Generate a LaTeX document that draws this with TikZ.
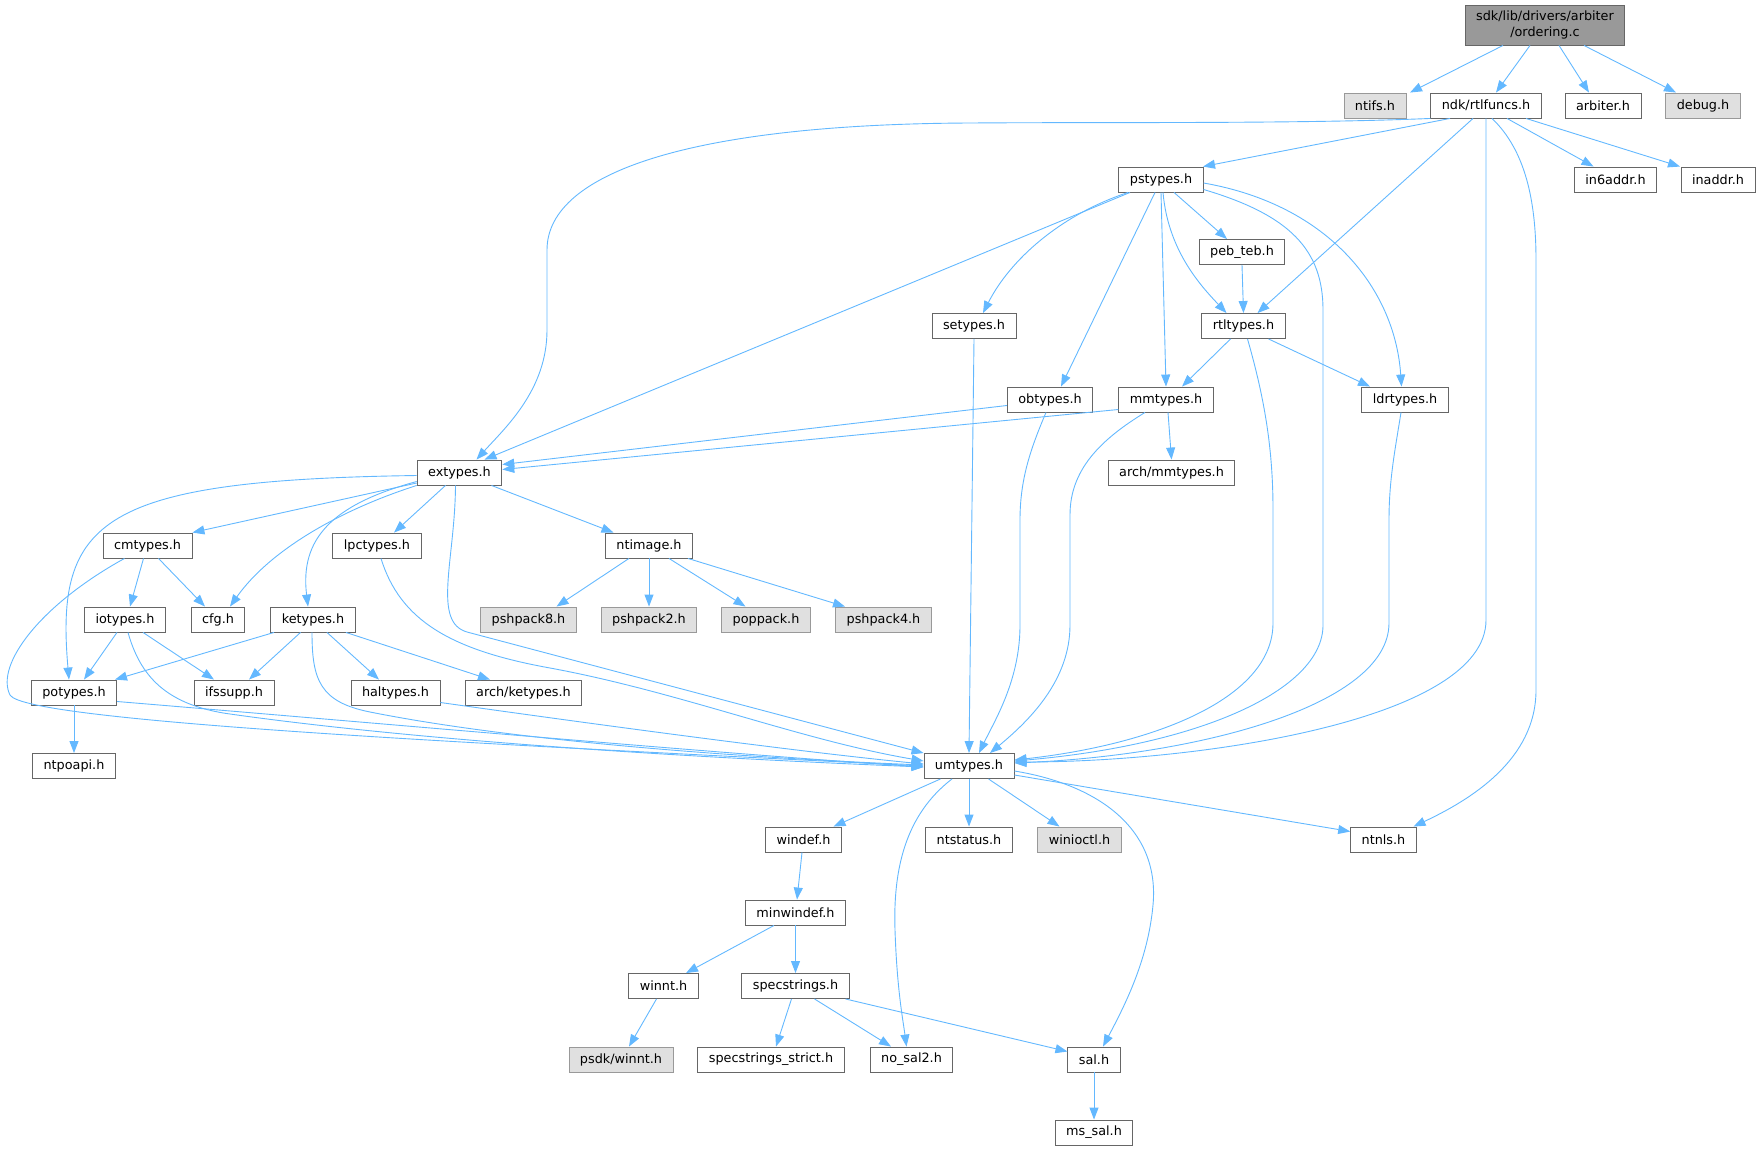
\documentclass[tikz,border=0pt]{standalone}
\usepackage{fontspec}
\setmainfont{DejaVu Sans}
\usetikzlibrary{arrows.meta}
\definecolor{edgeblue}{HTML}{63B8FF}
\definecolor{boxline}{HTML}{666666}
\definecolor{rootfill}{HTML}{999999}
\definecolor{missline}{HTML}{999999}
\definecolor{missfill}{HTML}{E0E0E0}
\begin{document}
\begin{tikzpicture}[
    x=1pt, y=-1pt,
    hdr/.style={draw=boxline,fill=white,line width=0.9pt,minimum height=25pt,
      inner xsep=11pt,inner ysep=0pt,font=\fontsize{12.8}{16}\selectfont},
    miss/.style={hdr,draw=missline,fill=missfill},
    root/.style={hdr,fill=rootfill,minimum height=40pt,align=center},
    dep/.style={draw=edgeblue,line width=0.9pt,-{Triangle[length=12pt,width=9pt]}}]
 \useasboundingbox (0,0) rectangle (1761,1151);
 \node [root] (ord) at (1545,25) {sdk/lib/drivers/arbiter\\/ordering.c};
 \node [miss] (ntifs) at (1375,105.5) {ntifs.h};
 \node [hdr] (rtlf) at (1486,105.5) {ndk/rtlfuncs.h};
 \node [hdr] (arbiter) at (1603,105.5) {arbiter.h};
 \node [miss] (debug) at (1703,105.5) {debug.h};
 \node [hdr] (pstypes) at (1161,179.5) {pstypes.h};
 \node [hdr] (in6) at (1615.5,179.5) {in6addr.h};
 \node [hdr] (inaddr) at (1718,179.5) {inaddr.h};
 \node [hdr] (pebteb) at (1242,252) {peb\_teb.h};
 \node [hdr] (setypes) at (974,326) {setypes.h};
 \node [hdr] (rtlt) at (1243.5,326) {rtltypes.h};
 \node [hdr] (obtypes) at (1050,399.5) {obtypes.h};
 \node [hdr] (mmtypes) at (1166,399.5) {mmtypes.h};
 \node [hdr] (ldrtypes) at (1405,399.5) {ldrtypes.h};
 \node [hdr] (extypes) at (459.5,472.5) {extypes.h};
 \node [hdr] (archmm) at (1171.5,472.5) {arch/mmtypes.h};
 \node [hdr] (cmtypes) at (147.5,545.5) {cmtypes.h};
 \node [hdr] (lpctypes) at (377,545.5) {lpctypes.h};
 \node [hdr] (ntimage) at (649,545.5) {ntimage.h};
 \node [hdr] (iotypes) at (125,619.5) {iotypes.h};
 \node [hdr] (cfg) at (218,619.5) {cfg.h};
 \node [hdr] (ketypes) at (313,619.5) {ketypes.h};
 \node [miss] (pshp8) at (528.5,619.5) {pshpack8.h};
 \node [miss] (pshp2) at (649,619.5) {pshpack2.h};
 \node [miss] (poppack) at (766,619.5) {poppack.h};
 \node [miss] (pshp4) at (883.5,619.5) {pshpack4.h};
 \node [hdr] (potypes) at (74,692.5) {potypes.h};
 \node [hdr] (ifssupp) at (234,692.5) {ifssupp.h};
 \node [hdr] (haltypes) at (395.5,692.5) {haltypes.h};
 \node [hdr] (archke) at (523.5,692.5) {arch/ketypes.h};
 \node [hdr] (ntpoapi) at (74,766) {ntpoapi.h};
 \node [hdr] (umtypes) at (969,766) {umtypes.h};
 \node [hdr] (windef) at (803.5,839.5) {windef.h};
 \node [hdr] (ntstatus) at (969,839.5) {ntstatus.h};
 \node [miss] (winioctl) at (1079.5,839.5) {winioctl.h};
 \node [hdr] (ntnls) at (1383.5,839.5) {ntnls.h};
 \node [hdr] (minwindef) at (795.5,912.5) {minwindef.h};
 \node [hdr] (winnt) at (663.5,986) {winnt.h};
 \node [hdr] (specstr) at (795.5,986) {specstrings.h};
 \node [miss] (psdkwinnt) at (621,1059.5) {psdk/winnt.h};
 \node [hdr] (specstrict) at (771,1059.5) {specstrings\_strict.h};
 \node [hdr] (nosal2) at (911.5,1059.5) {no\_sal2.h};
 \node [hdr] (sal) at (1094,1059.5) {sal.h};
 \node [hdr] (mssal) at (1094,1132.5) {ms\_sal.h};

 \draw [dep] ([xshift=-42pt]ord.south) -- ([xshift=35pt]ntifs.north);
 \draw [dep] ([xshift=-15pt]ord.south) -- ([xshift=10pt]rtlf.north);
 \draw [dep] ([xshift=14pt]ord.south) -- ([xshift=-14pt]arbiter.north);
 \draw [dep] ([xshift=39pt]ord.south) -- ([xshift=-27pt]debug.north);

 \draw [dep] (rtlf.south west) .. controls (1300,124) and (1100,122) .. (971,123)
   .. controls (700,124) and (547,170) .. (547,250) -- (547,330)
   .. controls (547,390) and (505,428) .. ([xshift=17pt]extypes.north);
 \draw [dep] ([xshift=-36pt]rtlf.south) -- ([xshift=42pt]pstypes.north);
 \draw [dep] ([xshift=-13pt]rtlf.south) -- ([xshift=14pt]rtlt.north);
 \draw [dep] (rtlf.south) -- (1486,620)
   .. controls (1486,720) and (1200,762) .. ([yshift=4pt]umtypes.east);
 \draw [dep] ([xshift=6pt]rtlf.south) .. controls (1525,150) and (1536,200) .. (1536,260)
   -- (1536,690) .. controls (1536,760) and (1470,800) .. ([xshift=30pt]ntnls.north);
 \draw [dep] ([xshift=21pt]rtlf.south) -- ([xshift=-22pt]in6.north);
 \draw [dep] ([xshift=40pt]rtlf.south) -- ([xshift=-38pt]inaddr.north);

 \draw [dep] ([xshift=-31pt]pstypes.south) -- ([xshift=25pt]extypes.north);
 \draw [dep] ([xshift=-33pt]pstypes.south) .. controls (1060,215) and (1010,260) .. ([xshift=9pt]setypes.north);
 \draw [dep] ([xshift=-6pt]pstypes.south) -- ([xshift=11pt]obtypes.north);
 \draw [dep] (pstypes.south) -- (mmtypes.north);
 \draw [dep] ([xshift=2pt]pstypes.south) .. controls (1168,250) and (1200,285) .. ([xshift=-17pt]rtlt.north);
 \draw [dep] ([xshift=13pt]pstypes.south) -- ([xshift=-15pt]pebteb.north);
 \draw [dep] ([yshift=-10pt]pstypes.east) .. controls (1290,215) and (1323,250) .. (1323,310)
   -- (1323,625) .. controls (1323,690) and (1200,745) .. ([yshift=5pt]umtypes.east);
 \draw [dep] ([yshift=-3.5pt]pstypes.east) .. controls (1330,205) and (1395,290) .. ([xshift=-3.5pt]ldrtypes.north);

 \draw [dep] (pebteb.south) -- (rtlt.north);
 \draw [dep] ([xshift=-13pt]rtlt.south) -- ([xshift=16pt]mmtypes.north);
 \draw [dep] ([xshift=25pt]rtlt.south) -- ([xshift=-35pt]ldrtypes.north);
 \draw [dep] ([xshift=4pt]rtlt.south) .. controls (1265,400) and (1273,450) .. (1273,510)
   -- (1273,623) .. controls (1273,700) and (1150,745) .. ([yshift=6pt]umtypes.east);

 \draw [dep] (setypes.south) -- (umtypes.north);
 \draw [dep] ([yshift=-6pt]obtypes.west) -- ([yshift=8pt]extypes.east);
 \draw [dep] ([xshift=-4pt]obtypes.south) .. controls (1030,450) and (1020,480) .. (1020,520)
   -- (1020,625) .. controls (1020,680) and (995,720) .. ([xshift=10pt]umtypes.north);
 \draw [dep] ([yshift=-10pt]mmtypes.west) -- ([yshift=3pt]extypes.east);
 \draw [dep] ([xshift=2pt]mmtypes.south) -- (archmm.north);
 \draw [dep] ([xshift=-21pt]mmtypes.south) .. controls (1100,440) and (1070,470) .. (1070,515)
   -- (1070,625) .. controls (1070,680) and (1030,720) .. ([xshift=21pt]umtypes.north);
 \draw [dep] ([xshift=-4pt]ldrtypes.south) .. controls (1395,450) and (1389,480) .. (1389,520)
   -- (1389,623) .. controls (1389,705) and (1200,755) .. ([yshift=3pt]umtypes.east);

 \draw [dep] ([yshift=-3pt]extypes.west) .. controls (100,480) and (55,520) .. ([xshift=-5pt]potypes.north);
 \draw [dep] ([yshift=-10.5pt]extypes.west) -- (cmtypes.north east);
 \draw [dep] (extypes.south west) .. controls (340,510) and (270,550) .. ([xshift=12pt]cfg.north);
 \draw [dep] ([yshift=-9pt]extypes.west) .. controls (330,505) and (300,540) .. ([xshift=-5pt]ketypes.north);
 \draw [dep] ([xshift=-14pt]extypes.south) -- ([xshift=17pt]lpctypes.north);
 \draw [dep] ([xshift=32pt]extypes.south) -- ([xshift=-35.5pt]ntimage.north);
 \draw [dep] ([xshift=-4pt]extypes.south) .. controls (455,560) and (432,622) .. (467,632)
   -- (umtypes.north west);

 \draw [dep] ([xshift=-4pt]cmtypes.south) -- ([xshift=5pt]iotypes.north);
 \draw [dep] ([xshift=11pt]cmtypes.south) -- ([xshift=-13pt]cfg.north);
 \draw [dep] ([xshift=-23pt]cmtypes.south) .. controls (40,605) and (-5,665) .. (10,695)
   .. controls (25,722) and (500,745) .. (umtypes.west);
 \draw [dep] ([xshift=-8pt]iotypes.south) -- ([xshift=10pt]potypes.north);
 \draw [dep] ([xshift=18pt]iotypes.south) -- ([xshift=-20pt]ifssupp.north);
 \draw [dep] ([xshift=3pt]iotypes.south) .. controls (140,675) and (165,705) .. (230,714)
   .. controls (450,745) and (750,760) .. ([yshift=-1pt]umtypes.west);
 \draw [dep] ([xshift=-39pt]ketypes.south) -- ([xshift=41pt]potypes.north);
 \draw [dep] ([xshift=-12.5pt]ketypes.south) -- ([xshift=15pt]ifssupp.north);
 \draw [dep] ([xshift=14pt]ketypes.south) -- ([xshift=-16.5pt]haltypes.north);
 \draw [dep] ([xshift=33pt]ketypes.south) -- ([xshift=-33.5pt]archke.north);
 \draw [dep] ([xshift=-1pt]ketypes.south) .. controls (312,680) and (320,702) .. (370,712)
   .. controls (520,742) and (750,758) .. ([yshift=1pt]umtypes.west);
 \draw [dep] ([xshift=4pt]lpctypes.south) .. controls (400,620) and (450,650) .. (550,668)
   .. controls (680,692) and (800,740) .. ([yshift=5pt]umtypes.west);
 \draw [dep] (potypes.south) -- (ntpoapi.north);
 \draw [dep] ([yshift=-9pt]potypes.east) .. controls (400,725) and (700,752) .. ([yshift=-1pt]umtypes.west);
 \draw [dep] ([yshift=-10pt]haltypes.east) .. controls (600,725) and (800,752) .. ([yshift=2pt]umtypes.west);

 \draw [dep] ([xshift=-20pt]ntimage.south) -- ([xshift=28pt]pshp8.north);
 \draw [dep] (ntimage.south) -- (pshp2.north);
 \draw [dep] ([xshift=20pt]ntimage.south) -- ([xshift=-20.5pt]poppack.north);
 \draw [dep] ([xshift=39pt]ntimage.south) -- ([xshift=-38.5pt]pshp4.north);

 \draw [dep] ([xshift=-28.5pt]umtypes.south) -- ([xshift=30pt]windef.north);
 \draw [dep] ([xshift=-17pt]umtypes.south) .. controls (905,815) and (893,870) .. (895,930)
   .. controls (897,990) and (903,1020) .. ([xshift=-5pt]nosal2.north);
 \draw [dep] (umtypes.south) -- (ntstatus.north);
 \draw [dep] ([xshift=19.5pt]umtypes.south) -- ([xshift=-20pt]winioctl.north);
 \draw [dep] ([yshift=-9pt]umtypes.east) -- ([yshift=8pt]ntnls.west);
 \draw [dep] ([yshift=-5pt]umtypes.east) .. controls (1100,785) and (1160,830) .. (1153,905)
   .. controls (1148,960) and (1125,1005) .. ([xshift=9pt]sal.north);

 \draw [dep] ([xshift=-1.5pt]windef.south) -- ([xshift=1.5pt]minwindef.north);
 \draw [dep] ([xshift=-21.5pt]minwindef.south) -- ([xshift=22.5pt]winnt.north);
 \draw [dep] (minwindef.south) -- (specstr.north);
 \draw [dep] ([xshift=-7pt]winnt.south) -- ([xshift=8pt]psdkwinnt.north);
 \draw [dep] ([xshift=-4pt]specstr.south) -- ([xshift=5pt]specstrict.north);
 \draw [dep] ([xshift=19pt]specstr.south) -- ([xshift=-20.5pt]nosal2.north);
 \draw [dep] ([xshift=50pt]specstr.south) -- ([yshift=8pt]sal.west);
 \draw [dep] (sal.south) -- (mssal.north);
\end{tikzpicture}
\end{document}
